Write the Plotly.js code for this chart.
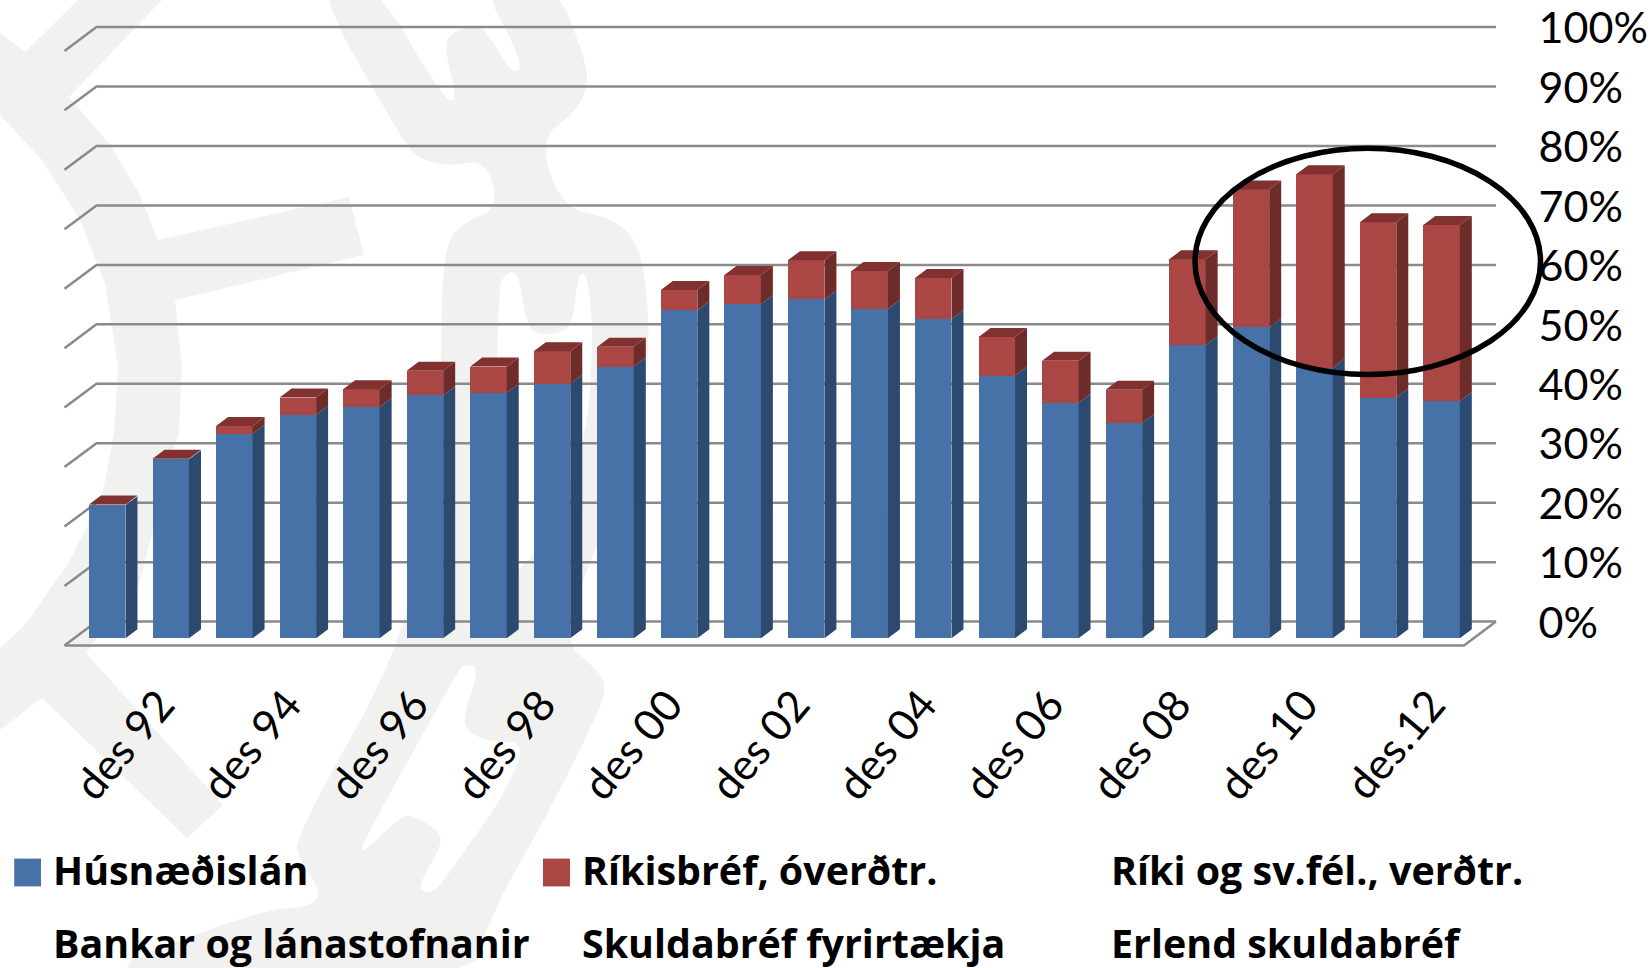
<!DOCTYPE html>
<html>
<head>
<meta charset="utf-8">
<script src="https://cdn.plot.ly/plotly-3.0.1.min.js"></script>
<style>html,body{margin:0;padding:0;background:#fff}#chart{width:1651px;height:968px}</style>
</head>
<body>
<div id="chart"></div>
<script>
// ---- data ----
const periods = ['des 91','des 92','des 93','des 94','des 95','des 96','des 97','des 98','des 99','des 00','des 01','des 02','des 03','des 04','des 05','des 06','des 07','des 08','des 09','des 10','des 11','des.12'];
const husnaedislan = [22.4,30.1,34.4,37.6,38.9,40.9,41.3,42.8,45.7,55.2,56.2,57.0,55.4,53.7,44.2,39.6,36.2,49.3,52.3,45.5,40.5,39.9];
const rikisbref    = [0.1,0.1,1.3,2.9,3.0,4.1,4.4,5.5,3.35,3.4,4.9,6.6,6.4,6.9,6.5,7.1,5.6,14.45,23.2,32.55,29.5,29.6];
const tickLabelIdx = [1,3,5,7,9,11,13,15,17,19,21];
const yTicks = [0,10,20,30,40,50,60,70,80,90,100];
const yTickText = ['0%','10%','20%','30%','40%','50%','60%','70%','80%','90%','100%'];
const legendNames = ['Húsnæðislán','Ríkisbréf, óverðtr.','Ríki og sv.fél., verðtr.','Bankar og lánastofnanir','Skuldabréf fyrirtækja','Erlend skuldabréf'];

// ---- geometry of the oblique drawing (pixels of the 1651x968 page) ----
const W = 1651, H = 968;
const pitch = 63.54, barW = 36.5, pxPerUnit = 5.945;
const barLeft = 75.45, barRight = barLeft + pitch * 22, barBase = 638.3;
const backLeft = 96.5, backRight = 1496, backBase = 621.6;
const barDepthX = 12 / pitch, barDepthY = 9 / pxPerUnit;
const floorDX = 32 / pitch, floorDY = 23.8 / pxPerUnit;
const labelShift = 0.166, yLabelShift = 0.2;
const px = x => x / W, py = y => 1 - y / H;

const blue = '#4672a8', red = '#aa4643', blueSide = '#2c4a6f', redSide = '#6d2c2a', redTop = '#81312f', grid = '#8a8a8a', wm = '#f1f1f0';

// ---- faces of the bars, from the data ----
const idx = periods.map((_, i) => i);
const hw = barW / pitch / 2;
function faces(bottoms, tops) {
  const xs = [], ys = [];
  idx.forEach(i => {
    const r = i + hw;
    xs.push(r, r + barDepthX, r + barDepthX, r, r, null);
    ys.push(bottoms[i], bottoms[i] + barDepthY, tops[i] + barDepthY, tops[i], bottoms[i], null);
  });
  return {x: xs, y: ys};
}
const total = idx.map(i => husnaedislan[i] + rikisbref[i]);
const zero = idx.map(() => 0);
const sideBlue = faces(zero, husnaedislan);
const sideRed = faces(husnaedislan, total);
const topX = [], topY = [];
idx.forEach(i => {
  topX.push(i - hw, i + hw, i + hw + barDepthX, i - hw + barDepthX, i - hw, null);
  topY.push(total[i], total[i], total[i] + barDepthY, total[i] + barDepthY, total[i], null);
});
function poly(f, color, name) {
  return {x: f.x, y: f.y, xaxis: 'x2', yaxis: 'y2', mode: 'lines', fill: 'toself', fillcolor: color,
    line: {width: 0, color: color}, hoverinfo: 'skip', showlegend: false, name: name};
}

// ---- back wall and floor, on the back-plane axes ----
const backXmin = -0.5 + (backLeft - barLeft) / pitch, backXmax = -0.5 + (backRight - barLeft) / pitch;
const wallX = [], wallY = [];
yTicks.forEach(v => { wallX.push(backXmin - floorDX, backXmin, backXmax, null); wallY.push(v - floorDY, v, v, null); });
wallX.push(backXmin - floorDX, backXmax - floorDX, backXmax); wallY.push(-floorDY, -floorDY, 0);

const traces = [
  {x: wallX, y: wallY, xaxis: 'x', yaxis: 'y', mode: 'lines', line: {color: grid, width: 2.5}, hoverinfo: 'skip', showlegend: false, name: 'wall'},
  {type: 'bar', x: idx, y: husnaedislan, xaxis: 'x2', yaxis: 'y2', name: legendNames[0], marker: {color: blue}, width: barW / pitch},
  {type: 'bar', x: idx, y: rikisbref, xaxis: 'x2', yaxis: 'y2', name: legendNames[1], marker: {color: red}, width: barW / pitch},
  poly(sideBlue, blueSide, 'side 1'), poly(sideRed, redSide, 'side 2'), poly({x: topX, y: topY}, redTop, 'top')
];

// ---- watermark (pale logo behind the chart) ----
function chaikin(r, n) {
  for (let k = 0; k < n; k++) {
    const out = [];
    r.forEach((p, i) => {
      const q = r[(i + 1) % r.length];
      out.push([p[0] * 0.75 + q[0] * 0.25, p[1] * 0.75 + q[1] * 0.25], [p[0] * 0.25 + q[0] * 0.75, p[1] * 0.25 + q[1] * 0.75]);
    });
    r = out;
  }
  return r;
}
function path(rings) {
  return rings.map(r => 'M' + r.map(p => px(p[0]).toFixed(5) + ',' + py(p[1]).toFixed(5)).join(' L') + ' Z').join(' ');
}
const wmLeft = [[0,33],[25,52],[78,0],[162,0],[69,97],[109,143],[139,193],[158,240],[349,197],[364,255],[175,300],[182,367],[179,433],[168,468],[139,585],[86,653],[223,805],[187,838],[42,698],[0,730],[0,648],[25,625],[67,565],[101,501],[114,433],[118,367],[105,283],[80,220],[42,160],[0,115]];
const wmCentre = [[310,-22],[404,143],[421,160],[450,166],[486,160],[499,208],[463,223],[448,240],[442,283],[441,367],[436,460],[406,640],[295,837],[300,860],[328,905],[252,911],[60,990],[466,990],[493,910],[550,810],[603,703],[605,683],[597,670],[563,640],[590,560],[625,480],[645,400],[650,320],[640,243],[610,217],[562,208],[539,140],[574,113],[587,90],[587,63],[553,-22],[478,-22],[524,63],[513,76],[488,33],[476,25],[452,32],[444,47],[458,103],[442,97],[372,-22]];
const wmSlot = [[499,300],[501,277],[518,269],[526,320],[532,332],[551,335],[572,328],[577,283],[583,270],[589,287],[593,333],[588,430],[560,510],[510,590],[480,520],[495,400]];
const wmHook = [[463,665],[480,667],[463,717],[468,732],[490,742],[527,742],[503,797],[463,853],[437,890],[427,893],[417,888],[443,843],[437,830],[413,815],[400,817],[363,853],[360,847],[457,673]];

const shapes = [
  {type: 'path', xref: 'paper', yref: 'paper', layer: 'below', path: path([wmLeft]), fillcolor: wm, line: {width: 0}},
  {type: 'path', xref: 'paper', yref: 'paper', layer: 'below', fillrule: 'evenodd', path: path([chaikin(wmCentre, 2), chaikin(wmSlot, 2), chaikin(wmHook, 2)]), fillcolor: wm, line: {width: 0}},
  {type: 'circle', xref: 'paper', yref: 'paper', x0: px(1195), x1: px(1540.5), y0: py(374.5), y1: py(148.3), line: {color: '#000', width: 5.5}, layer: 'above'},
  {type: 'rect', xref: 'paper', yref: 'paper', x0: px(14.2), x1: px(41), y0: py(886.4), y1: py(858.6), fillcolor: blue, line: {width: 0}},
  {type: 'rect', xref: 'paper', yref: 'paper', x0: px(543), x1: px(570), y0: py(886.4), y1: py(858.6), fillcolor: red, line: {width: 0}}
];

const legX = [50.5, 580, 1109], legY = [869.5, 943];
const annotations = legendNames.map((t, i) => ({
  text: t, showarrow: false, xref: 'paper', yref: 'paper', xanchor: 'left', yanchor: 'middle',
  x: px(legX[i % 3]), y: py(legY[Math.floor(i / 3)]), font: {family: 'Open Sans', size: 39.4, color: '#000', weight: 700}
}));

const yLow = -floorDY - 1, yHigh = 101;
const layout = {
  width: W, height: H, margin: {l: 0, r: 0, t: 0, b: 0}, autosize: false, showlegend: false,
  paper_bgcolor: '#fff', plot_bgcolor: 'rgba(0,0,0,0)', barmode: 'stack', font: {family: 'Lato', color: '#000'},
  xaxis: {domain: [px(backLeft - 34), px(backRight + 2)], range: [backXmin - 34 / pitch, backXmax + 2 / pitch], visible: false, anchor: 'y', fixedrange: true},
  yaxis: {domain: [py(backBase - yLow * pxPerUnit), py(backBase - yHigh * pxPerUnit)], range: [yLow, yHigh], side: 'right', anchor: 'x', tickvals: yTicks.map(v => v - yLabelShift), ticktext: yTickText,
    showgrid: false, zeroline: false, showline: false, ticks: 'outside', ticklen: 31, tickcolor: 'rgba(0,0,0,0)',
    tickfont: {family: 'Lato', size: 43, color: '#000'}, fixedrange: true},
  xaxis2: {domain: [px(barLeft), px(barRight)], range: [-0.5, 21.5], anchor: 'y2', tickvals: tickLabelIdx.map(i => i - labelShift), ticktext: tickLabelIdx.map(i => periods[i]),
    tickangle: -50, ticks: 'outside', ticklen: 23, tickcolor: 'rgba(0,0,0,0)', showgrid: false, zeroline: false, showline: false,
    tickfont: {family: 'Lato', size: 43, color: '#000'}, fixedrange: true},
  yaxis2: {domain: [py(barBase), py(barBase - 100 * pxPerUnit)], range: [0, 100], anchor: 'x2', visible: false, fixedrange: true},
  shapes, annotations
};
Plotly.newPlot('chart', traces, layout, {displayModeBar: false, staticPlot: true});
</script>
</body>
</html>
